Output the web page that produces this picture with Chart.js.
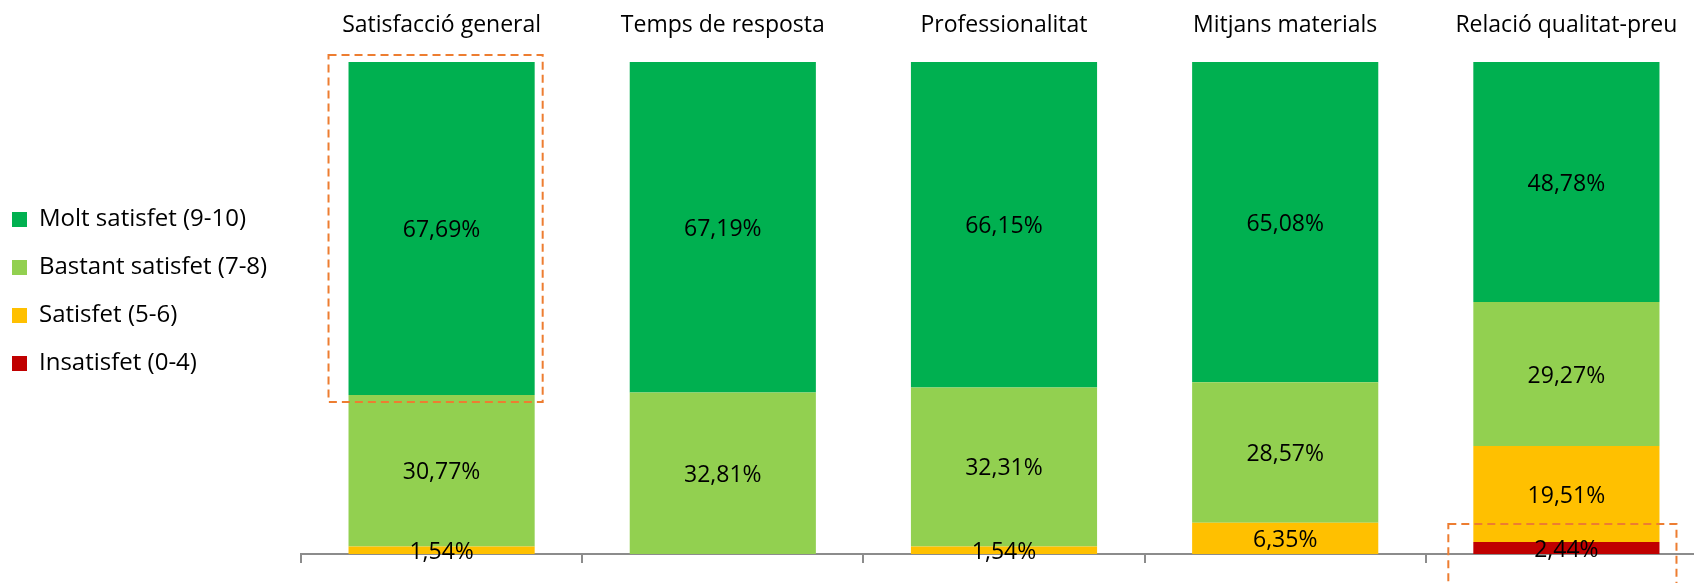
<!DOCTYPE html>
<html>
<head>
<meta charset="utf-8">
<script src="https://cdn.jsdelivr.net/npm/chart.js@4.4.0/dist/chart.umd.min.js"></script>
<style>
  body { margin: 0; overflow: hidden; background: #fff; }
  #wrap { position: absolute; left: -12px; top: 0; width: 1732px; height: 583px; }
</style>
</head>
<body>
<div id="wrap"><canvas id="myChart"></canvas></div>
<script>
// categories and series (percentages)
const categories = ['Satisfacció general', 'Temps de resposta', 'Professionalitat', 'Mitjans materials', 'Relació qualitat-preu'];
const moltSatisfet = [67.69, 67.19, 66.15, 65.08, 48.78];
const bastantSatisfet = [30.77, 32.81, 32.31, 28.57, 29.27];
const satisfet = [1.54, 0, 1.54, 6.35, 19.51];
const insatisfet = [0, 0, 0, 0, 2.44];

let yWidth = 40;

// value labels in the middle of each segment
const segmentLabels = {
    id: 'segmentLabels',
    afterDatasetsDraw(chart) {
        const ctx = chart.ctx;
        ctx.save();
        ctx.font = '23px "Open Sans"';
        ctx.fillStyle = '#000';
        ctx.textAlign = 'center';
        ctx.textBaseline = 'middle';
        chart.data.datasets.forEach((ds, i) => {
            const meta = chart.getDatasetMeta(i);
            meta.data.forEach((bar, j) => {
                const v = ds.data[j];
                if (!v) return;
                const txt = v.toFixed(2).replace('.', ',') + '%';
                ctx.fillText(txt, bar.x, (bar.y + bar.base) / 2 + 2);
            });
        });
        ctx.restore();
    }
};

// orange dashed highlight boxes
const highlights = {
    id: 'highlights',
    afterDraw(chart) {
        const ctx = chart.ctx;
        ctx.save();
        ctx.strokeStyle = '#ED7D31';
        ctx.lineWidth = 2;
        ctx.setLineDash([8, 5]);
        // first column, top segment (Molt satisfet)
        let b = chart.getDatasetMeta(3).data[0];
        ctx.strokeRect(b.x - b.width / 2 - 20, b.y - 7, b.width + 28, b.base - b.y + 14);
        // last column, bottom segment (Insatisfet)
        b = chart.getDatasetMeta(0).data[4];
        ctx.strokeRect(b.x - b.width / 2 - 25, b.y - 18, b.width + 42, 80);
        ctx.restore();
    }
};

// stacked bottom to top; legend shown reversed (top segment first)
let chart = new Chart(document.getElementById('myChart'), {
    type: 'bar',
    data: {
        labels: categories,
        datasets: [
            { label: 'Insatisfet (0-4)', data: insatisfet, backgroundColor: '#C00000' },
            { label: 'Satisfet (5-6)', data: satisfet, backgroundColor: '#FFC000' },
            { label: 'Bastant satisfet (7-8)', data: bastantSatisfet, backgroundColor: '#92D050' },
            { label: 'Molt satisfet (9-10)', data: moltSatisfet, backgroundColor: '#00B050' }
        ]
    },
    options: {
        responsive: true,
        maintainAspectRatio: false,
        animation: false,
        datasets: { bar: { categoryPercentage: 1, barPercentage: 0.662, borderWidth: 0 } },
        layout: { padding: { left: 0, right: 13, top: 0, bottom: 0 } },
        plugins: {
            tooltip: { enabled: false },
            legend: {
                position: 'left',
                fullSize: true,
                align: 'center',
                reverse: true,
                labels: {
                    boxWidth: 15,
                    boxHeight: 15,
                    padding: 24,
                    color: '#000',
                    font: { family: '"Open Sans"', size: 24 }
                }
            }
        },
        scales: {
            x: {
                stacked: true,
                position: 'bottom',
                offset: true,
                grid: { display: true, drawOnChartArea: false, drawTicks: true, tickLength: 9, color: '#8c8c8c', lineWidth: 2 },
                border: { display: true, color: '#8c8c8c', width: 2 },
                ticks: { display: false },
                afterFit: s => { s.height = 29; }
            },
            x2: {
                type: 'category',
                position: 'top',
                offset: true,
                grid: { display: false, drawTicks: false },
                border: { display: false },
                ticks: { color: '#000', padding: 23, font: { family: '"Open Sans"', size: 23 } },
                afterFit: s => { s.height = 62; }
            },
            y: {
                stacked: true,
                min: 0,
                max: 100,
                display: true,
                grid: { display: false },
                border: { display: false },
                ticks: { display: false },
                afterFit: s => { s.width = yWidth; }
            }
        }
    },
    plugins: [segmentLabels, highlights]
});

// line up the plot area with the reference
yWidth += 313 - chart.chartArea.left;
chart.update();
</script>
</body>
</html>
